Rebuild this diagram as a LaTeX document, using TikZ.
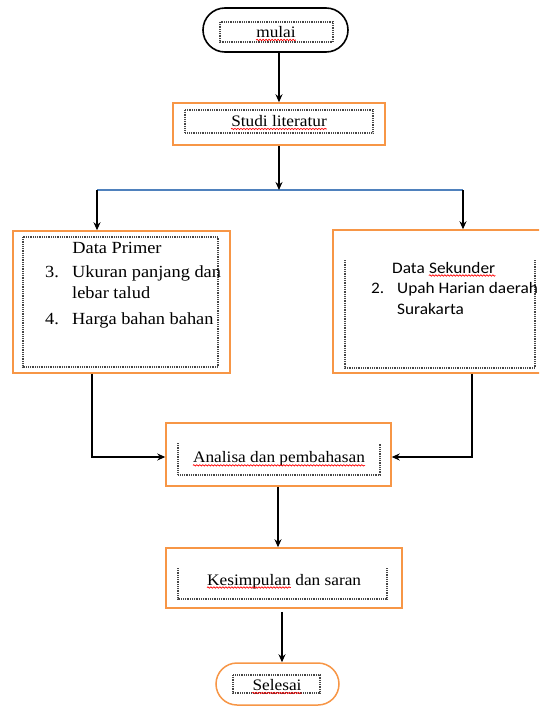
\documentclass[tikz,border=0pt]{standalone}
\usepackage{fontspec}
\setmainfont[FakeStretch=1.08]{Liberation Serif}
\newfontfamily\skfont[FakeStretch=1.08]{Carlito}
\usetikzlibrary{arrows.meta,decorations.pathmorphing}
\definecolor{boxorange}{RGB}{247,150,70}
\definecolor{lineblue}{RGB}{79,129,189}
\definecolor{dotgray}{RGB}{70,70,70}
\tikzset{
  outerbox/.style={draw=boxorange, line width=1.5pt, fill=white, inner sep=0pt},
  txt/.style={inner sep=0pt, font=\fontsize{16}{19}\selectfont},
  txtl/.style={inner sep=0pt, anchor=base west, font=\fontsize{17}{20}\selectfont},
  txts/.style={inner sep=0pt, anchor=base west, font=\skfont\fontsize{16}{19}\selectfont},
  arr/.style={-{Stealth[length=8pt,width=7pt]}, line width=1.4pt, black},
  dotf/.style={dotgray, line width=1.3pt, dash pattern=on 0.9pt off 0.9pt},
  squig/.style={red, line width=0.7pt, decorate, decoration={snake, amplitude=0.7pt, segment length=3pt}}
}
\begin{document}
\begin{tikzpicture}[x=1pt,y=-1pt]
\useasboundingbox (0,0) rectangle (539,707);
\clip (0,0) rectangle (539,707);
% start
\node[outerbox, draw=black, line width=1.6pt, rounded corners=22pt, minimum width=145pt, minimum height=44pt] (start) at (275.5,30) {};
\draw[dotf] (220,22) rectangle (333,42);
\node[txt] (tstart) at (276,32) {mulai};
% studi
\node[outerbox, minimum width=212pt, minimum height=42pt] (studi) at (279,124) {};
\draw[dotf] (185,110) rectangle (373,133);
\node[txt] (tstudi) at (279,121) {Studi literatur};
% left box
\node[outerbox, minimum width=217pt, minimum height=142pt] (left) at (121.5,302) {};
\draw[dotf] (23,237) rectangle (218,367);
\node[txtl, anchor=base] (lp0) at (117,253) {Data Primer};
\node[txtl] (lp1n) at (45,277) {3.};
\node[txtl] (lp1) at (72,277) {Ukuran panjang dan};
\node[txtl] (lp2) at (72,298) {lebar talud};
\node[txtl] (lp3n) at (45,324) {4.};
\node[txtl] (lp3) at (72,324) {Harga bahan bahan};
% right box
\node[outerbox, minimum width=212pt, minimum height=143pt] (right) at (439,301.5) {};
\draw[dotf] (345,260) -- (345,368) -- (535,368) -- (535,260);
\node[txts] (sd1) at (392,273) {Data};
\node[txts] (sd2) at ([xshift=3.9pt]sd1.base east) {Sekunder};
\node[txts] (rs1n) at (371,293) {2.};
\node[txts] (rs1) at (397,293) {Upah Harian daerah};
\node[txts] (rs2) at (397,314) {Surakarta};
% analisa
\node[outerbox, minimum width=225pt, minimum height=63pt] (ana) at (278.5,454.5) {};
\draw[dotf] (178,443) -- (178,475) -- (380,475) -- (380,443);
\node[txt] (tana) at (279,459) {Analisa dan pembahasan};
% kesimpulan
\node[outerbox, minimum width=236pt, minimum height=60pt] (kes) at (284,578) {};
\draw[dotf] (178,568) -- (178,599) -- (387,599) -- (387,568);
\node[txt, anchor=base west] (tk1) at (207,585) {Kesimpulan};
\node[txt, anchor=base west] (tk2) at ([xshift=4.3pt]tk1.base east) {dan saran};
% selesai
\node[outerbox, rounded corners=21pt, minimum width=123pt, minimum height=42pt] (end) at (277.5,684) {};
\draw[dotf] (233,675) rectangle (320,693);
\node[txt] (tend) at (277,685) {Selesai};
% squiggles
\foreach \n in {tstart,tstudi,sd2,tana,tk1,tend}
  \draw[squig] ([yshift=-2.5pt]\n.base west) -- ([yshift=-2.5pt]\n.base east);
% connectors
\coordinate (jl) at (97,190);
\coordinate (jc) at (279,190);
\coordinate (jr) at (463,190);
\coordinate (al) at (92,457);
\coordinate (ar) at (472,457);
\coordinate (am) at (278,0);
\coordinate (ke) at (282,0);
\draw[arr] (studi.north |- start.south) -- (studi.north);
\draw[lineblue, line width=1.3pt] (jl) -- (jr);
\draw[arr] (studi.south) -- (jc);
\draw[arr] (jl) -- (left.north -| jl);
\draw[arr] (jr) -- (right.north -| jr);
\draw[arr] (left.south -| al) -- (al) -- (ana.west |- al);
\draw[arr] (right.south -| ar) -- (ar) -- (ana.east |- ar);
\draw[arr] (ana.south -| am) -- (kes.north -| am);
\draw[arr] ([yshift=-3pt]kes.south -| ke) -- (end.north -| ke);
\end{tikzpicture}
\end{document}
